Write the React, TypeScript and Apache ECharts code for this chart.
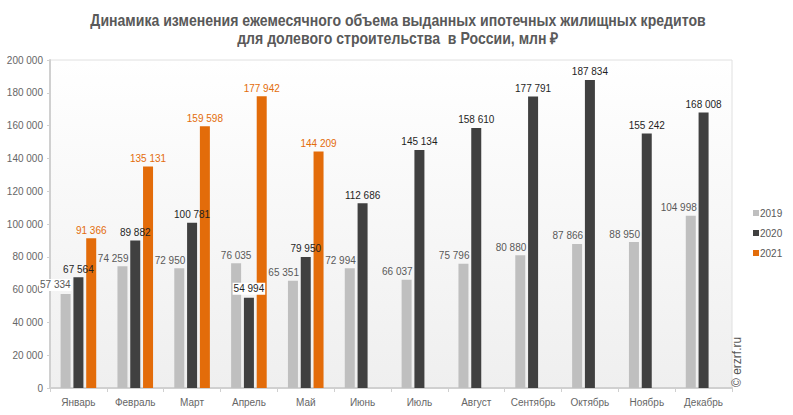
import React, { useEffect, useRef } from "react";
import * as echarts from "echarts";

const months = ["Январь", "Февраль", "Март", "Апрель", "Май", "Июнь", "Июль", "Август", "Сентябрь", "Октябрь", "Ноябрь", "Декабрь"];
const v2019 = [57334, 74259, 72950, 76035, 65351, 72994, 66037, 75796, 80880, 87866, 88950, 104998];
const v2020 = [67564, 89882, 100781, 54994, 79950, 112686, 145134, 158610, 177791, 187834, 155242, 168008];
const v2021: (number | null)[] = [91366, 135131, 159598, 177942, 144209, null, null, null, null, null, null, null];
const seriesNames = ["2019", "2020", "2021"];
const colors = ["#bfbfbf", "#404040", "#e36c0a"];
const labelColors = ["#595959", "#1f1f1f", "#e36c0a"];
const whiteBgPoints: [number, number][] = [[0, 0], [1, 3]]; // [series, month]
const centeredPoints: [number, number][] = [[0, 3]];
const titleLines = [
  "Динамика изменения ежемесячного объема выданных ипотечных жилищных кредитов",
  "для долевого строительства  в России, млн ₽",
];

const fmt = (n: number) => String(n).replace(/\B(?=(\d{3})+(?!\d))/g, " ");
const has = (list: [number, number][], s: number, m: number) => list.some(([a, b]) => a === s && b === m);

export default function App() {
  const ref = useRef<HTMLDivElement>(null);
  useEffect(() => {
    document.body.style.margin = "0";
    const chart = echarts.init(ref.current!, null, { renderer: "svg" });
    const all = [v2019, v2020, v2021];
    const series = all.map((arr, si) => ({
      name: seriesNames[si],
      type: "bar",
      barWidth: 10,
      barGap: "28%",
      itemStyle: { color: colors[si] },
      label: {
        show: true,
        position: "top",
        distance: 3,
        fontSize: 10,
        align: si === 0 ? "right" : "center",
        offset: si === 0 ? [6, 0] : [0, 0],
        fontFamily: "'Liberation Sans', Arial, sans-serif",
        color: labelColors[si],
        formatter: (p: any) => (p.value == null ? "" : fmt(p.value)),
      },
      data: arr.map((v, mi) => {
        if (v == null) return null;
        const lab: any = {};
        if (has(whiteBgPoints, si, mi)) {
          lab.backgroundColor = "#ffffff";
          lab.padding = [1, 1];
        }
        if (has(centeredPoints, si, mi)) {
          lab.align = "center";
          lab.offset = [0, 0];
        }
        return Object.keys(lab).length ? { value: v, label: lab } : v;
      }),
    }));
    const titleFont = {
      fontFamily: "'Liberation Sans', Arial, sans-serif",
      fontWeight: "bold",
      fontSize: 16,
      fill: "#595959",
      align: "center",
      verticalAlign: "middle",
    };
    chart.setOption({
      animation: false,
      backgroundColor: "#ffffff",
      legend: {
        orient: "vertical",
        left: 748,
        top: 203,
        itemWidth: 6,
        itemHeight: 6,
        itemGap: 10,
        icon: "rect",
        textStyle: { fontSize: 10, color: "#595959", fontFamily: "'Liberation Sans', Arial, sans-serif", padding: [0, 0, 0, -4] },
        data: seriesNames,
      },
      grid: {
        left: 50,
        right: 61,
        top: 60,
        bottom: 27,
        show: true,
        borderColor: "#e0e0e0",
        borderWidth: 1,
        backgroundColor: new echarts.graphic.LinearGradient(0, 0, 0, 1, [
          { offset: 0, color: "#ffffff" },
          { offset: 1, color: "#efefef" },
        ]),
      },
      xAxis: {
        type: "category",
        data: months,
        axisLine: { lineStyle: { color: "#d0d0d0", width: 2 } },
        axisTick: { show: true, length: 4, lineStyle: { color: "#d0d0d0" } },
        axisLabel: {
          interval: 0,
          fontSize: 10,
          color: "#666666",
          margin: 9,
          fontFamily: "'Liberation Sans', Arial, sans-serif",
        },
      },
      yAxis: {
        type: "value",
        min: 0,
        max: 200000,
        interval: 20000,
        axisLine: { show: true, lineStyle: { color: "#d0d0d0", width: 2 } },
        axisTick: { show: true, length: 3, lineStyle: { color: "#d0d0d0" } },
        splitLine: { show: false },
        axisLabel: {
          fontSize: 10,
          color: "#666666",
          margin: 7,
          fontFamily: "'Liberation Sans', Arial, sans-serif",
          formatter: (v: number) => fmt(v),
        },
      },
      graphic: [
        {
          type: "text",
          x: 398,
          y: 20,
          scaleX: 0.88,
          style: { ...titleFont, text: titleLines[0] },
        },
        {
          type: "text",
          x: 398,
          y: 38,
          scaleX: 0.88,
          style: { ...titleFont, text: titleLines[1] },
        },
        {
          type: "text",
          x: 731,
          y: 387,
          rotation: Math.PI / 2,
          style: {
            text: "© erzrf.ru",
            fontSize: 12,
            fill: "#555555",
            fontFamily: "'Liberation Sans', Arial, sans-serif",
          },
        },
      ],
      series,
    });
    return () => chart.dispose();
  }, []);
  return <div ref={ref} style={{ width: 793, height: 415 }} />;
}
